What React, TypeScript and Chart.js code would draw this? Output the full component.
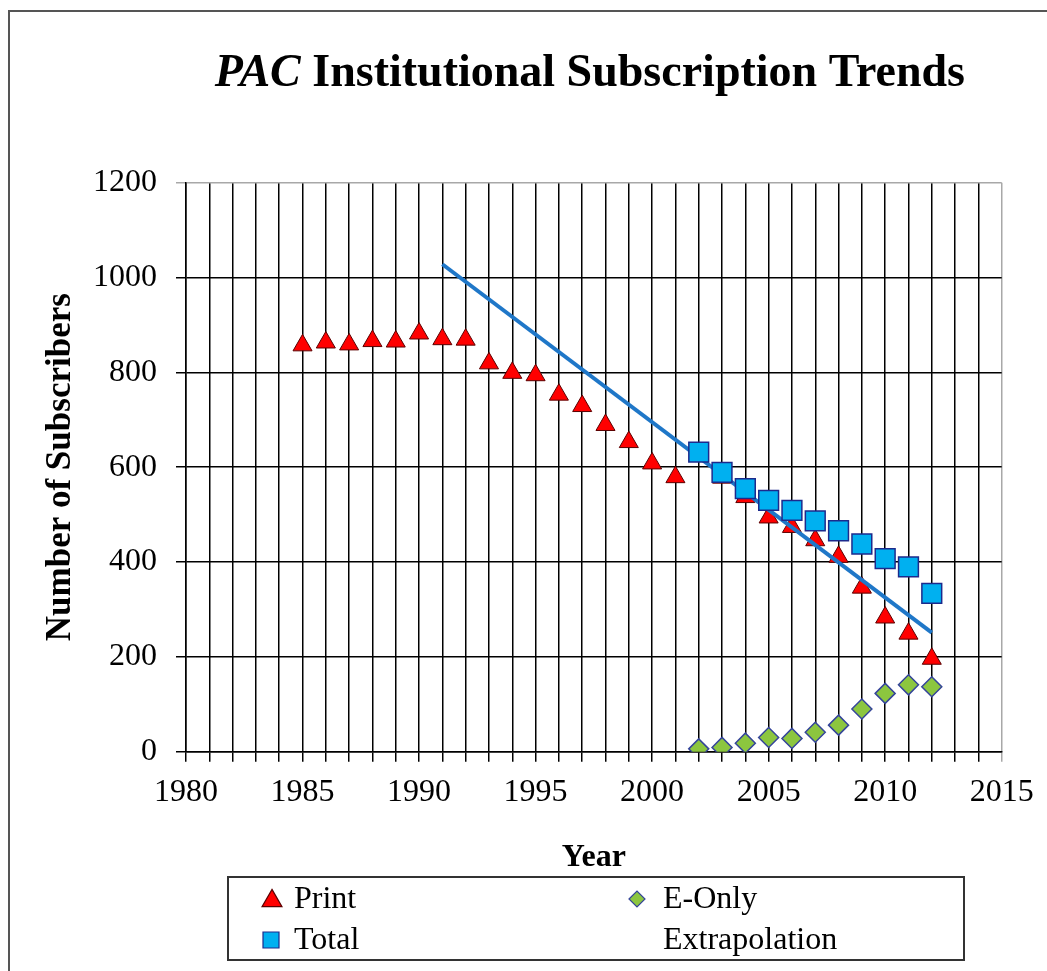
import React, { useEffect, useRef } from 'react';
import { Chart, registerables } from 'chart.js';

Chart.register(...registerables);

// ---- data ----
const printYears = [1985, 1986, 1987, 1988, 1989, 1990, 1991, 1992, 1993, 1994, 1995, 1996, 1997, 1998, 1999, 2000, 2001, 2002, 2003, 2004, 2005, 2006, 2007, 2008, 2009, 2010, 2011, 2012];
const printValues = [857, 863, 859, 866, 865, 882, 870, 869, 819, 799, 794, 753, 729, 689, 653, 608, 579, 626, 578, 537, 494, 474, 446, 411, 346, 283, 249, 196];

const totalYears = [2002, 2003, 2004, 2005, 2006, 2007, 2008, 2009, 2010, 2011, 2012];
const totalValues = [632, 589, 555, 530, 509, 487, 466, 438, 407, 390, 334];

const eOnlyYears = [2002, 2003, 2004, 2005, 2006, 2007, 2008, 2009, 2010, 2011, 2012];
const eOnlyValues = [6, 9, 18, 30, 28, 41, 56, 90, 123, 141, 137];

const extrapYears = [1991, 2012];
const extrapValues = [1028, 251];

const xTickLabels = [1980, 1985, 1990, 1995, 2000, 2005, 2010, 2015];
const yTickLabels = [0, 200, 400, 600, 800, 1000, 1200];

const seriesLabels = ['Print', 'Total', 'E-Only', 'Extrapolation'];

const SERIF = "'Liberation Serif', 'Times New Roman', Times, serif";

const toPoints = (xs: number[], ys: number[]) => xs.map((x, i) => ({ x, y: ys[i] }));

const PRINT_FILL = '#FF0000';
const PRINT_EDGE = '#5a0000';
const TOTAL_FILL = '#00B0F0';
const TOTAL_EDGE = '#1c2a8c';
const EONLY_FILL = '#8CC63F';
const EONLY_EDGE = '#35459a';
const LINE_COLOR = '#1F77C8';

const titlePlugin = {
  id: 'customTitle',
  afterDraw(chart: any) {
    const ctx = chart.ctx;
    const ca = chart.chartArea;
    ctx.save();
    const italic = `italic bold 46px ${SERIF}`;
    const bold = `bold 46px ${SERIF}`;
    const p1 = 'PAC';
    const p2 = ' Institutional Subscription Trends';
    ctx.font = italic;
    const w1 = ctx.measureText(p1).width;
    ctx.font = bold;
    const w2 = ctx.measureText(p2).width;
    const cx = (ca.left + ca.right) / 2 - 4;
    const x = cx - (w1 + w2) / 2;
    const y = 86;
    ctx.fillStyle = '#000';
    ctx.textBaseline = 'alphabetic';
    ctx.textAlign = 'left';
    ctx.font = italic;
    ctx.fillText(p1, x, y);
    ctx.font = bold;
    ctx.fillText(p2, x + w1, y);

    // outer frame
    ctx.strokeStyle = '#555';
    ctx.lineWidth = 2;
    ctx.beginPath();
    ctx.moveTo(9, 971);
    ctx.lineTo(9, 11);
    ctx.lineTo(1047, 11);
    ctx.stroke();
    ctx.restore();
  },
};

function drawMarker(ctx: CanvasRenderingContext2D, style: string, x: number, y: number, r: number, fill: string, edge: string) {
  ctx.beginPath();
  if (style === 'triangle') {
    const h = r * 1.5;
    const half = (r * Math.sqrt(3)) / 2;
    ctx.moveTo(x, y - h / 2 - 1);
    ctx.lineTo(x + half, y + h / 2 - 1);
    ctx.lineTo(x - half, y + h / 2 - 1);
    ctx.closePath();
  } else if (style === 'rect') {
    ctx.rect(x - r, y - r, 2 * r, 2 * r);
  } else if (style === 'rectRot') {
    ctx.moveTo(x - r, y);
    ctx.lineTo(x, y - r);
    ctx.lineTo(x + r, y);
    ctx.lineTo(x, y + r);
    ctx.closePath();
  } else {
    return;
  }
  ctx.fillStyle = fill;
  ctx.fill();
  ctx.strokeStyle = edge;
  ctx.lineWidth = 1.2;
  ctx.stroke();
}

const legendPlugin = {
  id: 'customLegend',
  afterDraw(chart: any) {
    const ctx = chart.ctx as CanvasRenderingContext2D;
    ctx.save();
    ctx.strokeStyle = '#333';
    ctx.lineWidth = 2;
    ctx.strokeRect(228, 877, 736, 83);
    const slots = [
      { mx: 272, tx: 294, y: 899, size: 11.5 },
      { mx: 271, tx: 294, y: 940, size: 8 },
      { mx: 637, tx: 663, y: 899, size: 8 },
      { mx: 637, tx: 663, y: 940, size: 0 },
    ];
    ctx.font = `32px ${SERIF}`;
    ctx.textBaseline = 'middle';
    ctx.textAlign = 'left';
    chart.data.datasets.forEach((ds: any, i: number) => {
      const s = slots[i];
      if (!s) return;
      if (ds.pointRadius > 0) {
        drawMarker(ctx, ds.pointStyle, s.mx, s.y, s.size, ds.backgroundColor, ds.borderColor);
      }
      ctx.fillStyle = '#000';
      ctx.fillText(ds.label, s.tx, s.y + 1);
    });
    ctx.restore();
  },
};

export default function App() {
  const ref = useRef<HTMLCanvasElement | null>(null);

  useEffect(() => {
    document.body.style.margin = '0';
    const canvas = ref.current;
    if (!canvas) return;
    const chart = new Chart(canvas, {
      type: 'scatter',
      data: {
        datasets: [
          {
            label: seriesLabels[0],
            data: toPoints(printYears, printValues),
            pointStyle: 'triangle',
            pointRadius: 11,
            pointHoverRadius: 11,
            backgroundColor: PRINT_FILL,
            borderColor: PRINT_EDGE,
            borderWidth: 1,
            order: 4,
          },
          {
            label: seriesLabels[1],
            data: toPoints(totalYears, totalValues),
            pointStyle: 'rect',
            pointRadius: 14,
            pointHoverRadius: 14,
            backgroundColor: TOTAL_FILL,
            borderColor: TOTAL_EDGE,
            borderWidth: 1.5,
            order: 2,
          },
          {
            label: seriesLabels[2],
            data: toPoints(eOnlyYears, eOnlyValues),
            pointStyle: 'rectRot',
            pointRadius: 10,
            pointHoverRadius: 10,
            backgroundColor: EONLY_FILL,
            borderColor: EONLY_EDGE,
            borderWidth: 1.5,
            order: 1,
          },
          {
            type: 'line',
            label: seriesLabels[3],
            data: toPoints(extrapYears, extrapValues),
            borderColor: LINE_COLOR,
            backgroundColor: LINE_COLOR,
            borderWidth: 4,
            pointRadius: 0,
            pointHoverRadius: 0,
            showLine: true,
            fill: false,
            order: 3,
          } as any,
        ],
      },
      options: {
        animation: false,
        responsive: false,
        devicePixelRatio: 1,
        layout: { padding: { left: 0, right: 45.3, top: 182.7, bottom: 89.3 } },
        plugins: {
          legend: { display: false },
          title: { display: false },
          tooltip: { enabled: false },
        },
        scales: {
          x: {
            type: 'linear',
            min: xTickLabels[0],
            max: xTickLabels[xTickLabels.length - 1],
            afterFit: (scale: any) => {
              scale.height = 130;
            },
            ticks: {
              stepSize: 1,
              autoSkip: false,
              maxRotation: 0,
              padding: 12,
              color: '#000',
              font: { family: SERIF, size: 32 },
              callback: (v: any) => (xTickLabels.includes(Number(v)) ? String(v) : ''),
            },
            grid: {
              color: (c: any) => (c.tick && c.tick.value === xTickLabels[xTickLabels.length - 1] ? '#a8a8a8' : '#000'),
              lineWidth: 1.5,
              tickLength: 10,
            },
            border: { display: true, color: '#000', width: 1.5 },
            title: {
              display: true,
              text: 'Year',
              color: '#000',
              font: { family: SERIF, size: 32, weight: 'bold' },
              padding: { top: 0, bottom: 5 },
            },
          },
          y: {
            type: 'linear',
            min: yTickLabels[0],
            max: yTickLabels[yTickLabels.length - 1],
            afterFit: (scale: any) => {
              scale.width = 186;
            },
            afterBuildTicks: (scale: any) => {
              scale.ticks = yTickLabels.map((v) => ({ value: v }));
            },
            ticks: {
              stepSize: 200,
              padding: 19,
              color: '#000',
              font: { family: SERIF, size: 32 },
              callback: (v: any) => String(v),
            },
            grid: {
              color: (c: any) => (c.tick && c.tick.value === yTickLabels[yTickLabels.length - 1] ? '#a8a8a8' : '#000'),
              lineWidth: 1.5,
              tickLength: 10,
            },
            border: { display: true, color: '#000', width: 1.5 },
            title: {
              display: true,
              text: 'Number of Subscribers',
              color: '#000',
              font: { family: SERIF, size: 35, weight: 'bold' },
              padding: { top: 40, bottom: 0 },
            },
          },
        },
      },
      plugins: [titlePlugin, legendPlugin],
    } as any);
    return () => chart.destroy();
  }, []);

  return (
    <div style={{ width: 1047, height: 971, background: '#fff' }}>
      <canvas ref={ref} width={1047} height={971} style={{ display: 'block', width: 1047, height: 971 }} />
    </div>
  );
}
